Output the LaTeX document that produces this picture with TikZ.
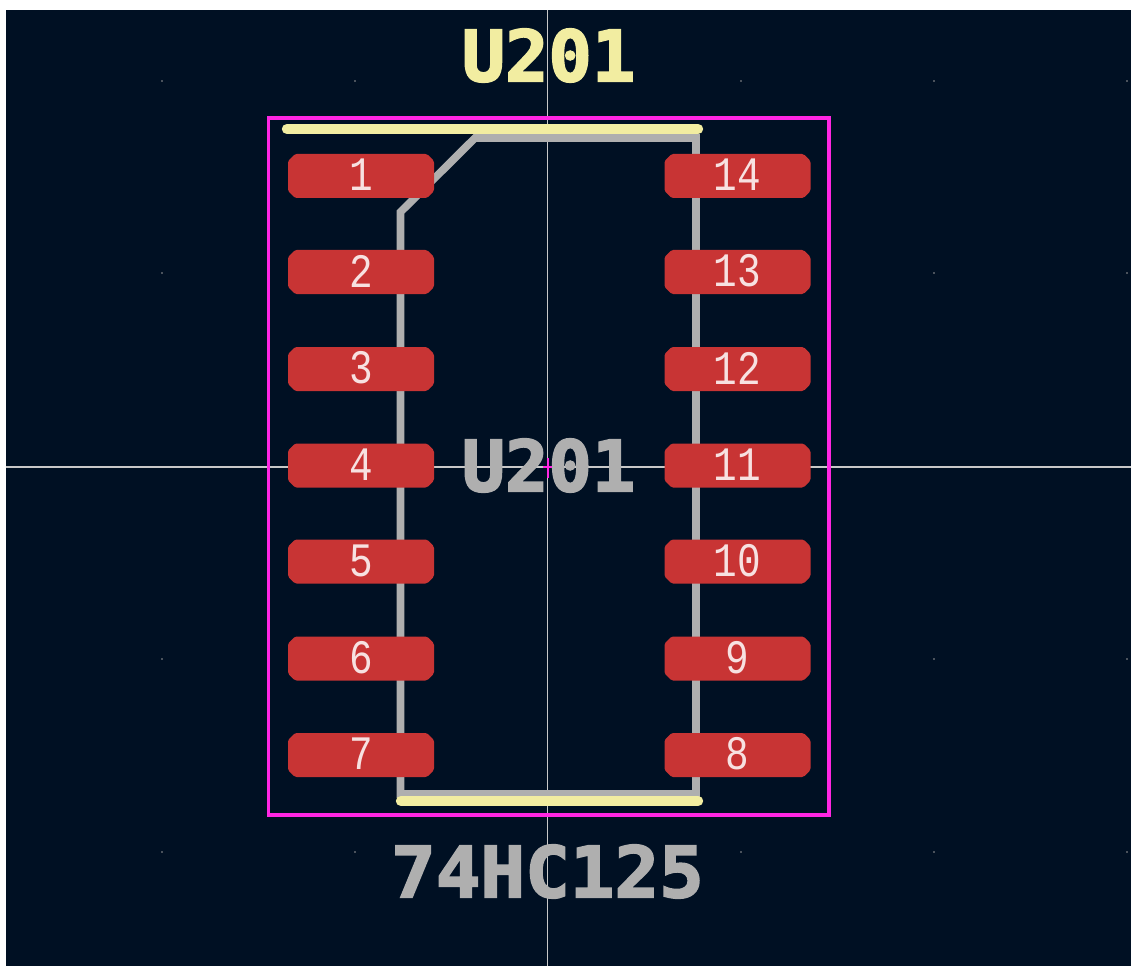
\documentclass[tikz,border=0pt]{standalone}
\usepackage{fontspec}
\setmainfont{DejaVu Sans Mono}
\newfontfamily\padfont{Liberation Mono}
\newfontfamily\bigfont[FakeBold=2.6]{DejaVu Sans Mono Bold}
\definecolor{bgc}{HTML}{001023}
\definecolor{padc}{HTML}{C83434}
\definecolor{silk}{HTML}{F2EDA1}
\definecolor{fab}{HTML}{AFAFAF}
\definecolor{crt}{HTML}{FF26E2}
\definecolor{axisc}{HTML}{C8C8C8}
\definecolor{dotc}{HTML}{4A525C}
\tikzset{
  padbox/.style={fill=padc,draw=none,rounded corners=1.2pt},
  padnum/.style={text=white!85!padc,font=\fontsize{36}{36}\padfont,inner sep=0pt,anchor=center},
  bigtext/.style={font=\fontsize{53}{53}\bigfont,inner sep=0pt,anchor=center}
}
\newcommand{\padat}[4]{% name, cx, cy, num
  \fill[padbox] (#2-73,#3-15) -- (#2-66,#3-22) -- (#2+66,#3-22) -- (#2+73,#3-15) -- (#2+73,#3+15) -- (#2+66,#3+22) -- (#2-66,#3+22) -- (#2-73,#3+15) -- cycle;
  \node[padnum] (#1) at (#2,#3-1) {\scalebox{0.82}[1]{#4}};
}
\begin{document}
\begin{tikzpicture}[x=0.75pt,y=-0.75pt]
\useasboundingbox (0,0) rectangle (1131,966);
\fill[white] (0,0) rectangle (1131,966);
\fill[bgc] (6,10) rectangle (1131,966);
% grid dots
\foreach \x in {162,355,741,934,1127}\foreach \y in {81,273,659,852}
  \fill[dotc] (\x-1,\y-1) rectangle (\x+1,\y+1);
% axes
\draw[axisc,line width=0.9pt] (6,467) -- (1131,467);
\draw[axisc,line width=0.9pt] (547.5,10) -- (547.5,966);
% fab outline
\draw[fab,line width=5.8pt,line join=miter] (400.5,794) -- (400.5,212) -- (475,138) -- (696,138) -- (696,794) -- cycle;
% courtyard
\draw[crt,line width=2.6pt] (268.5,118) rectangle (829,815);
% silk
\draw[silk,line width=7.8pt,line cap=round] (287,129) -- (698,129);
\draw[silk,line width=7.8pt,line cap=round] (401,801) -- (698,801);
% pads
\padat{p1}{361}{176}{1}
\padat{p2}{361}{272}{2}
\padat{p3}{361}{369}{3}
\padat{p4}{361}{465.5}{4}
\padat{p5}{361}{561.5}{5}
\padat{p6}{361}{658.5}{6}
\padat{p7}{361}{755}{7}
\padat{p14}{737.5}{176}{14}
\padat{p13}{737.5}{272}{13}
\padat{p12}{737.5}{369}{12}
\padat{p11}{737.5}{465.5}{11}
\padat{p10}{737.5}{561.5}{10}
\padat{p9}{737.5}{658.5}{9}
\padat{p8}{737.5}{755}{8}
% text
\node[bigtext,text=silk] (ref) at (548.5,55.5) {\scalebox{1.02}[1]{U201}};
\node[bigtext,text=fab] (val) at (548.5,465.5) {\scalebox{1.02}[1]{U201}};
\node[bigtext,text=fab] (part) at (547.5,871.5) {\scalebox{1.05}[1]{74HC125}};
% anchor cross
\draw[crt,line width=1.5pt] (543,466.5) -- (552,466.5) (547.5,458) -- (547.5,478);
\end{tikzpicture}
\end{document}
